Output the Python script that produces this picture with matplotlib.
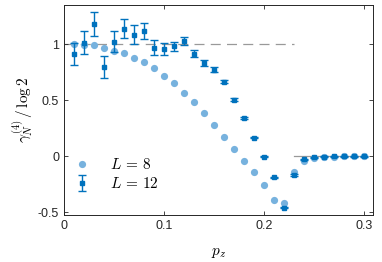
import numpy as np
import matplotlib
matplotlib.use("Agg")
import matplotlib.pyplot as plt

plt.rcParams['font.family'] = ['Liberation Sans', 'DejaVu Sans']
plt.rcParams['mathtext.fontset'] = 'cm'

# data
pz = np.round(np.arange(1, 31) * 0.01, 2)

gamma_L8 = [1.00, 0.99, 0.99, 0.97, 0.94, 0.925, 0.88, 0.84, 0.79, 0.72,
            0.65, 0.56, 0.48, 0.384, 0.277, 0.172, 0.065, -0.04, -0.145, -0.256,
            -0.39, -0.42, -0.145, -0.04, -0.02, -0.005, -0.004, -0.003, -0.003, -0.003]

gamma_L12 = [0.91, 1.015, 1.18, 0.80, 1.02, 1.14, 1.085, 1.12, 0.97, 0.955,
             0.98, 1.026, 0.915, 0.833, 0.773, 0.666, 0.505, 0.34, 0.165, -0.005,
             -0.19, -0.46, -0.17, -0.03, -0.012, -0.005, -0.003, -0.002, -0.002, -0.002]

err_L12 = [0.10, 0.104, 0.104, 0.098, 0.094, 0.083, 0.083, 0.07, 0.068, 0.052,
           0.04, 0.034, 0.03, 0.025, 0.02, 0.015, 0.01, 0.008, 0.007, 0.007,
           0.007, 0.007, 0.007, 0.007, 0.006, 0.006, 0.006, 0.006, 0.006, 0.006]

light = '#77B2DE'
dark = '#0072BD'

fig = plt.figure(figsize=(3.82, 2.62), dpi=100)
ax = fig.add_axes([0.1675, 0.179, 0.8085, 0.801])

# reference lines
ax.plot([0, 0.23], [1, 1], color='#999999', lw=0.9, dashes=(8, 5), zorder=1)
ax.plot([0.23, 0.3], [0, 0], color='#999999', lw=0.9, zorder=1)

ax.plot(pz, gamma_L8, 'o', color=light, ms=5.2, mec='none', label=r'$L\,=\,8$', zorder=2)
ax.errorbar(pz, gamma_L12, yerr=err_L12, fmt='s', color=dark, ms=3, mec=dark,
            elinewidth=1.0, capsize=3, capthick=1.0, label=r'$L\,=\,12$', zorder=3)

ax.set_xlim(0, 0.309)
ax.set_ylim(-0.527, 1.348)
ax.set_xticks([0, 0.1, 0.2, 0.3])
ax.set_xticklabels(['0', '0.1', '0.2', '0.3'])
ax.set_yticks([-0.5, 0, 0.5, 1])
ax.set_yticklabels(['-0.5', '0', '0.5', '1'])
ax.tick_params(direction='in', top=True, right=True, labelsize=9, length=3, width=0.6,
               colors='#262626')
for s in ax.spines.values():
    s.set_linewidth(0.7)
    s.set_color('#262626')

ax.set_xlabel('$p_z$', fontsize=11, labelpad=10)
ax.set_ylabel(r'$\gamma_N^{(4)}\,/\,\log 2$', fontsize=11, labelpad=2)

ax.legend(loc='lower left', bbox_to_anchor=(0.0, 0.07), frameon=False, fontsize=11,
          handlelength=1.2, handletextpad=1.2, borderaxespad=0.2, labelspacing=0.25)

fig.savefig('out.png', dpi=100)
